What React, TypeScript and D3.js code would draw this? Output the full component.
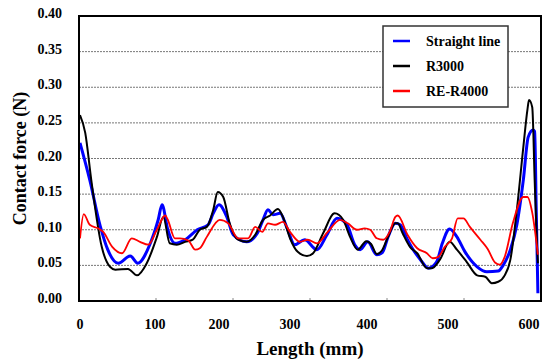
import React, { useEffect, useRef } from 'react';
import * as d3 from 'd3';

// length (mm) / contact force (N)
const straightX = [0, 13, 27, 37, 51, 67, 77, 93, 105, 111, 120, 131, 147, 166, 183, 191, 200, 211, 220, 239, 254, 262, 269, 276, 286, 296, 306, 319, 335, 348, 361, 374, 384, 391, 401, 412, 419, 426, 435, 441, 450, 457, 466, 476, 486, 493, 502, 511, 521, 536, 548, 562, 568, 577, 585, 593, 599, 605, 607, 609, 611];
const straightY = [0.222, 0.17, 0.105, 0.072, 0.053, 0.063, 0.053, 0.079, 0.114, 0.135, 0.1, 0.081, 0.086, 0.1, 0.107, 0.123, 0.135, 0.118, 0.093, 0.083, 0.095, 0.114, 0.128, 0.121, 0.123, 0.102, 0.079, 0.086, 0.072, 0.093, 0.116, 0.107, 0.079, 0.072, 0.083, 0.065, 0.068, 0.09, 0.109, 0.107, 0.086, 0.072, 0.058, 0.046, 0.055, 0.081, 0.101, 0.09, 0.069, 0.048, 0.041, 0.042, 0.05, 0.072, 0.107, 0.17, 0.23, 0.24, 0.238, 0.124, 0.011];

const r3000X = [0, 7, 15, 29, 40, 47, 64, 76, 89, 103, 113, 123, 134, 147, 159, 170, 181, 191, 198, 206, 215, 227, 239, 251, 262, 272, 283, 290, 300, 310, 322, 330, 343, 358, 369, 378, 388, 399, 405, 412, 419, 426, 435, 438, 444, 453, 462, 474, 480, 490, 502, 511, 523, 536, 546, 554, 562, 570, 577, 585, 593, 598, 600, 604, 607, 610, 611];
const r3000Y = [0.261, 0.236, 0.17, 0.076, 0.048, 0.044, 0.045, 0.036, 0.053, 0.09, 0.118, 0.081, 0.079, 0.083, 0.086, 0.1, 0.104, 0.128, 0.153, 0.146, 0.109, 0.086, 0.083, 0.093, 0.114, 0.12, 0.129, 0.118, 0.088, 0.069, 0.063, 0.067, 0.095, 0.123, 0.114, 0.09, 0.072, 0.084, 0.08, 0.066, 0.072, 0.09, 0.109, 0.109, 0.095, 0.076, 0.067, 0.046, 0.046, 0.058, 0.083, 0.072, 0.055, 0.036, 0.034, 0.025, 0.027, 0.036, 0.058, 0.128, 0.216, 0.268, 0.282, 0.272, 0.17, 0.076, 0.053];

const reR4000X = [0, 5, 13, 24, 31, 43, 56, 69, 80, 91, 103, 116, 120, 131, 139, 152, 163, 170, 181, 201, 213, 227, 241, 251, 261, 269, 279, 290, 300, 313, 323, 335, 349, 365, 375, 387, 397, 404, 412, 420, 428, 435, 438, 450, 462, 474, 481, 488, 496, 505, 512, 519, 527, 540, 549, 558, 564, 570, 580, 593, 598, 604, 611];
const reR4000Y = [0.088, 0.122, 0.107, 0.102, 0.097, 0.076, 0.067, 0.088, 0.083, 0.079, 0.1, 0.12, 0.114, 0.088, 0.088, 0.085, 0.072, 0.074, 0.09, 0.114, 0.109, 0.088, 0.088, 0.104, 0.097, 0.109, 0.107, 0.111, 0.097, 0.083, 0.086, 0.081, 0.097, 0.114, 0.109, 0.1, 0.102, 0.1, 0.088, 0.086, 0.097, 0.118, 0.12, 0.093, 0.074, 0.067, 0.06, 0.062, 0.076, 0.088, 0.116, 0.116, 0.104, 0.086, 0.073, 0.054, 0.051, 0.062, 0.109, 0.146, 0.146, 0.124, 0.065];

const seriesNames = ['Straight line', 'R3000', 'RE-R4000'];
const seriesColors = ['#0000ff', '#000000', '#ff0000'];
const seriesWidths = [3, 2, 1.8];

const xTickLabels = [0, 100, 200, 300, 400, 500, 600];
// label positions in the original are uneven, so the x scale is piecewise
const xTickPixels = [80, 155, 219, 290, 367, 448, 529];
const yTicks = [0, 0.05, 0.1, 0.15, 0.2, 0.25, 0.3, 0.35, 0.4];

const W = 549;
const H = 359;
const PLOT = { left: 79, right: 541, top: 16, bottom: 301 };
const FONT = "'Liberation Serif', 'Times New Roman', serif";

type Pt = { x: number; y: number };

const App: React.FC = () => {
    const svgRef = useRef<SVGSVGElement | null>(null);

    useEffect(() => {
        const svg = d3.select(svgRef.current);
        svg.selectAll('*').remove();

        const x = d3.scaleLinear()
            .domain(xTickLabels)
            .range(xTickPixels);

        const y = d3.scaleLinear()
            .domain([0, 0.4])
            .range([PLOT.bottom, PLOT.top]);

        svg.append('rect').attr('width', W).attr('height', H).attr('fill', '#fff');

        // grid
        svg.append('g')
            .selectAll('line')
            .data(yTicks.filter(t => t > 0 && t < 0.4))
            .enter()
            .append('line')
            .attr('x1', PLOT.left)
            .attr('x2', PLOT.right)
            .attr('y1', d => y(d))
            .attr('y2', d => y(d))
            .attr('stroke', '#777')
            .attr('stroke-width', 1)
            .attr('stroke-dasharray', '2,1');

        // small ticks along the bottom
        const tickPos = d3.scaleLinear().domain([0, 6]).range([PLOT.left, PLOT.right]);
        svg.append('g')
            .selectAll('line')
            .data([1, 2, 3, 4, 5])
            .enter()
            .append('line')
            .attr('x1', d => tickPos(d))
            .attr('x2', d => tickPos(d))
            .attr('y1', PLOT.bottom)
            .attr('y2', PLOT.bottom - 3)
            .attr('stroke', '#888');

        const series: Pt[][] = [
            straightX.map((v, i) => ({ x: v, y: straightY[i] })),
            r3000X.map((v, i) => ({ x: v, y: r3000Y[i] })),
            reR4000X.map((v, i) => ({ x: v, y: reR4000Y[i] }))
        ];

        const line = d3.line<Pt>()
            .x(d => x(d.x))
            .y(d => y(d.y))
            .curve(d3.curveMonotoneX);

        series.forEach((s, i) => {
            svg.append('path')
                .datum(s)
                .attr('d', line)
                .attr('fill', 'none')
                .attr('stroke', seriesColors[i])
                .attr('stroke-width', seriesWidths[i])
                .attr('stroke-linejoin', 'round');
        });

        // frame
        svg.append('rect')
            .attr('x', PLOT.left)
            .attr('y', PLOT.top)
            .attr('width', PLOT.right - PLOT.left)
            .attr('height', PLOT.bottom - PLOT.top)
            .attr('fill', 'none')
            .attr('stroke', '#000')
            .attr('stroke-width', 2);

        const text = svg.append('g')
            .style('font-family', FONT)
            .style('font-weight', 'bold');

        // y labels
        text.append('g')
            .selectAll('text')
            .data(yTicks)
            .enter()
            .append('text')
            .attr('x', 62)
            .attr('y', d => y(d) + 2)
            .attr('text-anchor', 'end')
            .style('font-size', '14px')
            .text(d => d.toFixed(2));

        // x labels
        text.append('g')
            .selectAll('text')
            .data(xTickLabels)
            .enter()
            .append('text')
            .attr('x', d => x(d))
            .attr('y', 329)
            .attr('text-anchor', 'middle')
            .style('font-size', '14px')
            .text(d => String(d));

        text.append('text')
            .attr('x', (PLOT.left + PLOT.right) / 2)
            .attr('y', 355)
            .attr('text-anchor', 'middle')
            .style('font-size', '19px')
            .text('Length (mm)');

        text.append('text')
            .attr('transform', `translate(26,${(PLOT.top + PLOT.bottom) / 2}) rotate(-90)`)
            .attr('text-anchor', 'middle')
            .style('font-size', '18px')
            .text('Contact force (N)');

        // legend
        const lg = text.append('g').attr('transform', 'translate(383,26)');
        lg.append('rect')
            .attr('width', 125)
            .attr('height', 81)
            .attr('fill', '#fff')
            .attr('stroke', '#333')
            .attr('stroke-width', 1.5);

        seriesNames.forEach((name, i) => {
            const yy = 15 + i * 25;
            lg.append('line')
                .attr('x1', 10)
                .attr('x2', 27)
                .attr('y1', yy)
                .attr('y2', yy)
                .attr('stroke', seriesColors[i])
                .attr('stroke-width', 2.5);
            lg.append('text')
                .attr('x', 43)
                .attr('y', yy + 5)
                .style('font-size', '14px')
                .text(name);
        });
    }, []);

    return (
        <svg
            ref={svgRef}
            width={W}
            height={H}
            style={{ position: 'absolute', left: 0, top: 0 }}
        ></svg>
    );
};

export default App;
